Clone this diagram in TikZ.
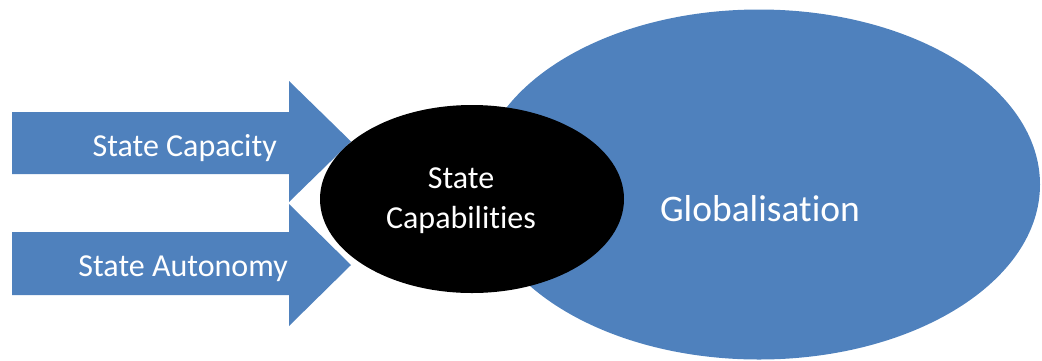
\documentclass[tikz,border=0pt]{standalone}
\usepackage{fontspec}
\setmainfont{Carlito}[Ligatures=CommonOff]
\begin{document}
\begin{tikzpicture}[x=1pt,y=-1pt,
  blueshape/.style={fill=accentblue,draw=none},
  lbl/.style={text=white,inner sep=0pt,font=\fontsize{32}{38}\selectfont}]
\definecolor{accentblue}{RGB}{79,129,189}
\useasboundingbox (0,0) rectangle (1042,360);
% large ellipse
\fill[blueshape] (759,184.5) ellipse [x radius=281, y radius=175];
\node[lbl,font=\fontsize{37.5}{44}\selectfont] (glob) at (760,209) {Globalisation};
% two block arrows
\fill[blueshape] (12,112) -- (289,112) -- (289,81) -- (351,141.5) -- (289,202) -- (289,174) -- (12,174) -- cycle;
\fill[blueshape] (12,232) -- (289,232) -- (289,204) -- (351,265) -- (289,326) -- (289,295) -- (12,295) -- cycle;
\node[lbl,anchor=east] (cap) at (277,148) {State Capacity};
\node[lbl,anchor=east] (aut) at (288,269) {State Autonomy};
% central ellipse
\fill[black] (472,199) ellipse [x radius=152, y radius=94];
\node[lbl,align=center,font=\fontsize{32}{40}\selectfont] (capab) at (461,201) {State\\Capabilities};
\end{tikzpicture}
\end{document}
